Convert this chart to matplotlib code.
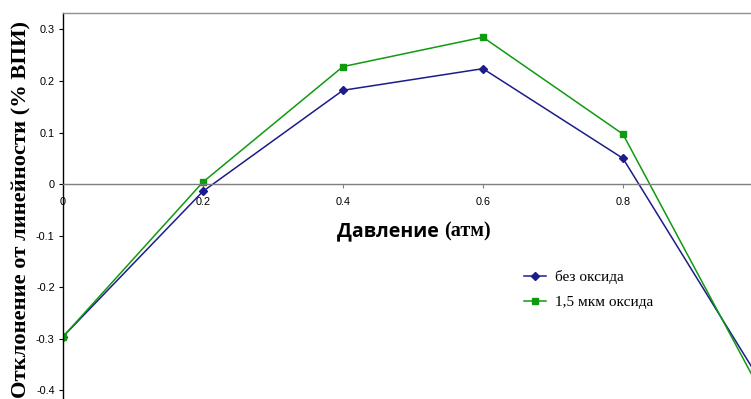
import matplotlib
matplotlib.use("Agg")
import matplotlib.pyplot as plt
from matplotlib.lines import Line2D

pressure = [0.0, 0.2, 0.4, 0.6, 0.8, 1.0]
no_oxide = [-0.296, -0.014, 0.182, 0.224, 0.050, -0.39]
oxide_15 = [-0.296, 0.004, 0.228, 0.285, 0.097, -0.41]
x_ticks = [0.0, 0.2, 0.4, 0.6, 0.8]
x_tick_labels = ["0", "0.2", "0.4", "0.6", "0.8"]
y_ticks = [-0.4, -0.3, -0.2, -0.1, 0.0, 0.1, 0.2, 0.3]
y_tick_labels = ["-0.4", "-0.3", "-0.2", "-0.1", "0", "0.1", "0.2", "0.3"]

fig = plt.figure(figsize=(7.51, 3.99), dpi=100)
ax = fig.add_axes([63 / 751, 0, 1 - 63 / 751, 1 - 13 / 399])

blue = "#1c1c8a"
green = "#109a10"
ax.plot(pressure, no_oxide, color=blue, lw=1.1, marker="D", ms=4, mfc=blue, mec=blue)
ax.plot(pressure, oxide_15, color=green, lw=1.1, marker="s", ms=5, mfc=green, mec=green)

ax.set_xlim(0, 0.983)
ax.set_ylim(-0.417, 0.332)

ax.spines["bottom"].set_position(("data", 0))
ax.spines["bottom"].set_color("#7f7f7f")
ax.spines["top"].set_color("#8f8f8f")
ax.spines["right"].set_visible(False)
ax.spines["left"].set_color("black")
for s in ax.spines.values():
    s.set_linewidth(1.0)

ax.set_xticks(x_ticks)
ax.set_xticklabels(x_tick_labels, fontfamily="Liberation Sans", fontsize=7.8)
ax.set_yticks(y_ticks)
ax.set_yticklabels(y_tick_labels, fontfamily="Liberation Sans", fontsize=7.8)
ax.tick_params(axis="x", length=3, color="#7f7f7f", pad=6)
ax.tick_params(axis="y", length=3, color="black", pad=3)

fig.text(0.028, 0.474, "Отклонение от линейности (% ВПИ)", rotation=90,
         ha="center", va="center", fontfamily="Liberation Serif",
         fontweight="bold", fontsize=16.2)

fig.text(0.5915, 0.419, "Давление ", ha="right", va="center",
         fontfamily="Open Sans", fontweight="bold", fontsize=14)
fig.text(0.5915, 0.419, "(атм)", ha="left", va="center",
         fontfamily="Liberation Serif", fontweight="bold", fontsize=14.5)

handles = [
    Line2D([], [], color=blue, lw=1.1, marker="D", ms=4),
    Line2D([], [], color=green, lw=1.1, marker="s", ms=5),
]
ax.legend(handles, ["без оксида", "1,5 мкм оксида"], loc="upper left",
          bbox_to_anchor=(0.65, 0.37), frameon=False, handlelength=1.45,
          handletextpad=0.55, labelspacing=0.75,
          prop={"family": "Liberation Serif", "size": 11})

fig.savefig("out.png", dpi=100)
